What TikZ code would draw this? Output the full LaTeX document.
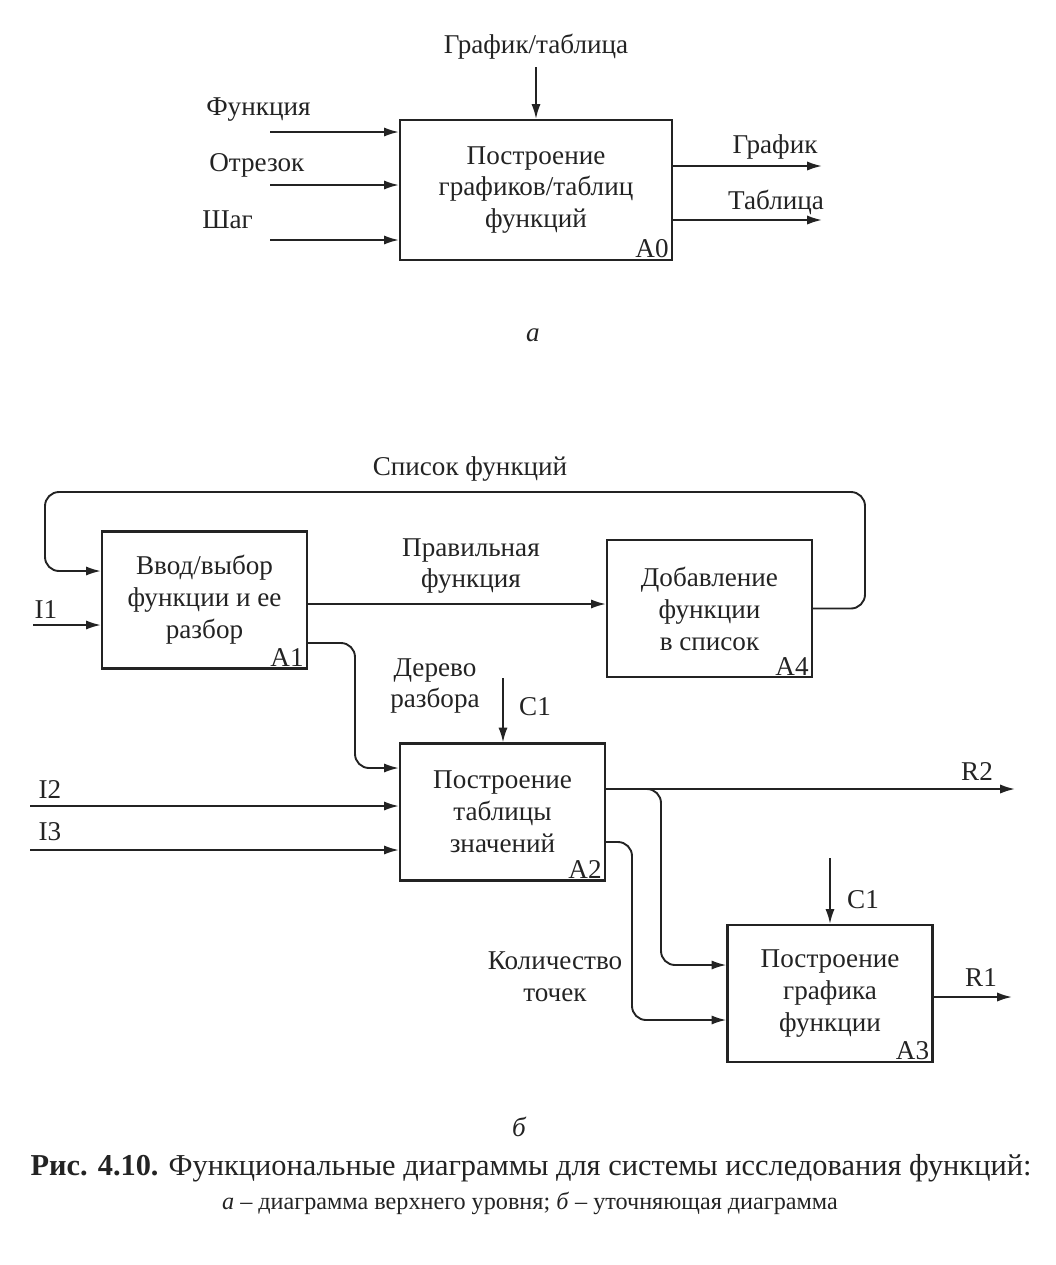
\documentclass[tikz,border=0pt]{standalone}
\usepackage{fontspec}
\setmainfont{Liberation Serif}
\usetikzlibrary{arrows.meta}
\definecolor{ink}{RGB}{35, 35, 35}
\tikzstyle{blk}=[rectangle,draw=ink,line width=1.6pt,
  minimum width=5.125cm,minimum height=3.425cm,align=center,inner sep=2pt]
\tikzstyle{num}=[inner xsep=3pt,inner ysep=2pt]
\tikzstyle{lbl}=[inner sep=0pt,align=center]
\tikzstyle{arr}=[draw=ink,line width=1.35pt,rounded corners=10pt,
  -{Latex[length=10.5pt,width=6.5pt]}]

\begin{document}
\begin{tikzpicture}[x=0.025cm,y=-0.025cm,text=ink,
    font=\fontsize{19.3}{22.7}\selectfont]
    \useasboundingbox (0,0) rectangle (1055,1265);
    % a
    \node [blk,minimum width=6.8cm,minimum height=3.5cm] (a0) at (536,190)
      {Построение\\графиков/таблиц\\функций};
    \node [num,anchor=south east] (a0n) at (a0.south east) {A0};
    \node [lbl] (gtl) at (536,47) {График/таблица};
    \node [lbl,anchor=west] (fnl) at (206,110) {Функция};
    \node [lbl,anchor=west] (otl) at (209,165) {Отрезок};
    \node [lbl,anchor=west] (shl) at (202,220) {Шаг};
    \node [lbl] (grl) at (775,147) {График};
    \node [lbl] (tbl) at (776,202) {Таблица};
    \node [lbl] (capa) at (533,335) {\itshape а};
    \coordinate (gt) at (536,67);
    \coordinate (fn) at (270,132);
    \coordinate (ot) at (270,185);
    \coordinate (sh) at (270,240);
    \coordinate (gr) at (822,166);
    \coordinate (tb) at (822,220);
    \draw [arr] (gt) -- (a0.north);
    \draw [arr] (fn) -- (fn -| a0.west);
    \draw [arr] (ot) -- (ot -| a0.west);
    \draw [arr] (sh) -- (sh -| a0.west);
    \draw [arr] (gr -| a0.east) -- (gr);
    \draw [arr] (tb -| a0.east) -- (tb);
    % b
    \node [blk] (a1) at (204.5,600) {Ввод/выбор\\функции и ее\\разбор};
    \node [num,anchor=south east] (a1n) at (a1.south east) {A1};
    \node [blk] (a4) at (709.5,608.5) {Добавление\\функции\\в список};
    \node [num,anchor=south east] (a4n) at (a4.south east) {A4};
    \node [blk] (a2) at (502.5,812) {Построение\\таблицы\\значений};
    \node [num,anchor=south east] (a2n) at (a2.south east) {A2};
    \node [blk] (a3) at (830,993.5) {Построение\\графика\\функции};
    \node [num,anchor=south east] (a3n) at (a3.south east) {A3};
    \node [lbl] (spl) at (470,469) {Список функций};
    \node [lbl] (pfl) at (471,566) {Правильная\\функция};
    \node [lbl] (drl) at (435,686) {Дерево\\разбора};
    \node [lbl] (c1al) at (535,707) {C1};
    \node [lbl] (c1bl) at (863,900) {C1};
    \node [lbl] (i1l) at (46,610) {I1};
    \node [lbl] (i2l) at (50,790) {I2};
    \node [lbl] (i3l) at (50,832) {I3};
    \node [lbl] (r2l) at (977,772) {R2};
    \node [lbl] (r1l) at (981,978) {R1};
    \node [lbl] (ktl) at (555,977) {Количество\\точек};
    \node [lbl] (capb) at (519,1127) {\itshape б};
    \coordinate (lr) at (865,492);
    \coordinate (ll) at (45,571);
    \coordinate (i1) at (33,625);
    \coordinate (pf) at (460,604);
    \coordinate (dr) at (355,643);
    \coordinate (dr2) at (355,768);
    \coordinate (c1a) at (503,678);
    \coordinate (i2) at (30,806);
    \coordinate (i3) at (30,850);
    \coordinate (r2) at (1015,789);
    \coordinate (br) at (661,965);
    \coordinate (kt0) at (632,842);
    \coordinate (kt) at (632,1020);
    \coordinate (c1b) at (830,858);
    \coordinate (r1) at (1012,997);
    \draw [arr] (a4.east) -| (lr) -| (ll) -- (ll -| a1.west);
    \draw [arr] (i1) -- (i1 -| a1.west);
    \draw [arr] (pf -| a1.east) -- (pf -| a4.west);
    \draw [arr] (dr -| a1.east) -- (dr) -- (dr2) -- (dr2 -| a2.west);
    \draw [arr] (c1a) -- (c1a |- a2.north);
    \draw [arr] (i2) -- (i2 -| a2.west);
    \draw [arr] (i3) -- (i3 -| a2.west);
    \draw [arr] (r2 -| a2.east) -- (r2);
    \draw [arr] (r2 -| a2.east) -- (br |- r2) -- (br) -- (br -| a3.west);
    \draw [arr] (kt0 -| a2.east) -- (kt0) -- (kt) -- (kt -| a3.west);
    \draw [arr] (c1b) -- (c1b |- a3.north);
    \draw [arr] (r1 -| a3.east) -- (r1);
    % caption
    \node [lbl,font=\fontsize{21.6}{25}\selectfont] (cap) at (531,1168)
      {\textbf{Рис. 4.10.} Функциональные диаграммы для системы исследования функций:};
    \node [lbl,font=\fontsize{17.2}{20}\selectfont] (sub) at (530,1203)
      {\textit{а} – диаграмма верхнего уровня; \textit{б} – уточняющая диаграмма};
\end{tikzpicture}
\end{document}
